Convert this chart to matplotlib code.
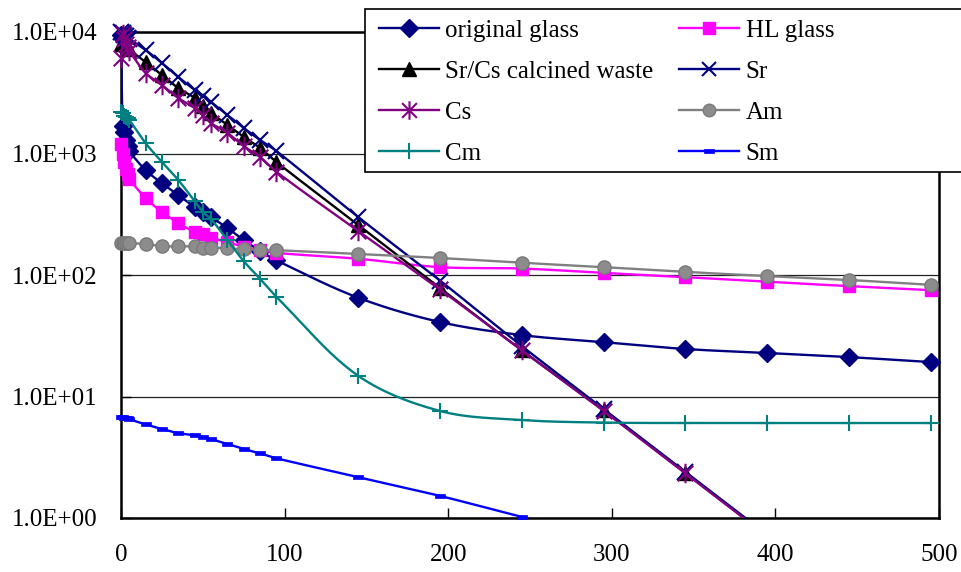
import numpy as np
import matplotlib
matplotlib.use("Agg")
import matplotlib.pyplot as plt
from matplotlib.path import Path
from matplotlib.patches import Rectangle
from matplotlib.lines import Line2D
from matplotlib.ticker import NullLocator, FixedLocator, FixedFormatter

plt.rcParams['font.family'] = ['Liberation Serif', 'DejaVu Serif']

# ---------------- data ----------------
years = [0, 1, 2, 3, 4, 5, 15, 25, 35, 45, 50, 55, 65, 75, 85, 95,
         145, 195, 245, 295, 345, 395, 445, 495]

original_glass = [9500, 1700, 1500, 1300, 1150, 1050, 730, 570, 455, 363, 330, 300,
                  244, 194, 158, 132, 65, 41, 32, 28, 24.6, 22.8, 21.1, 19.2]
hl_glass = [1200, 1000, 850, 750, 680, 620, 430, 330, 268, 226, 217, 202,
            187, 170, 161, 152, 136, 116, 113, 104, 96, 88, 81, 75]
srcs_waste = [8000, 8500, 8200, 7800, 7500, 7200, 5665, 4430, 3460, 2865, 2460, 2160,
              1720, 1370, 1110, 850, 258, 78, 24, 7.7, 2.35, 0.72, 0.22, 0.068]
sr = [10000, 9800, 9500, 9300, 9000, 8800, 7110, 5560, 4265, 3335, 3000, 2655,
      2075, 1623, 1291, 1048, 300, 90, 26, 7.9, 2.4, 0.73, 0.22, 0.068]
cs = [6100, 9600, 8700, 8000, 7500, 7000, 4600, 3660, 2865, 2368, 2075, 1780,
      1480, 1150, 935, 706, 230, 76, 24, 7.6, 2.33, 0.71, 0.215, 0.066]
am = [185, 185, 185, 185, 184, 183, 180, 173, 172, 172, 168, 168,
      166, 163, 161, 160, 149, 138, 126, 116, 106, 98, 91, 83]
cm = [2200, 2150, 2050, 2000, 1950, 1900, 1218, 851, 605, 406, 330, 289,
      194, 130, 93, 66, 14.8, 7.6, 6.4, 6.1, 6.05, 6.05, 6.05, 6.05]
sm = [6.8, 6.8, 6.7, 6.7, 6.6, 6.5, 5.9, 5.4, 5.0, 4.8, 4.65, 4.46,
      4.06, 3.7, 3.4, 3.1, 2.17, 1.52, 1.02, 0.69, 0.47, 0.32, 0.22, 0.15]

series_names = ["original glass", "HL glass", "Sr/Cs calcined waste", "Sr",
                "Cs", "Am", "Cm", "Sm"]
x_ticks = [0, 100, 200, 300, 400, 500]
y_ticks = [1, 10, 100, 1000, 10000]
y_tick_labels = ["1.0E+00", "1.0E+01", "1.0E+02", "1.0E+03", "1.0E+04"]

# ---------------- markers ----------------
star_marker = Path([(0, -1), (0, 1), (-0.8, -0.8), (0.8, 0.8), (-0.8, 0.8), (0.8, -0.8)],
                   [Path.MOVETO, Path.LINETO, Path.MOVETO, Path.LINETO, Path.MOVETO, Path.LINETO])
dash_marker = Path([(-1, -0.4), (1, -0.4), (1, 0.4), (-1, 0.4), (-1, -0.4)],
                   [Path.MOVETO, Path.LINETO, Path.LINETO, Path.LINETO, Path.CLOSEPOLY])

styles = [
    dict(color="#000080", marker="D", ms=9.5, mfc="#000080", mec="#000080", mew=1),
    dict(color="#FF00FF", marker="s", ms=8.5, mfc="#FF00FF", mec="#FF00FF", mew=1),
    dict(color="#000000", marker="^", ms=10, mfc="#000000", mec="#000000", mew=1),
    dict(color="#000080", marker="x", ms=11, mfc="none", mec="#000080", mew=1.5),
    dict(color="#800080", marker=star_marker, ms=14, mfc="none", mec="#800080", mew=1.5),
    dict(color="#808080", marker="o", ms=9.5, mfc="#8C8C8C", mec="#7A7A7A", mew=1),
    dict(color="#008080", marker="+", ms=12, mfc="none", mec="#008080", mew=1.5),
    dict(color="#0000FF", marker=dash_marker, ms=7, mfc="#0000FF", mec="#0000FF", mew=0.5),
]
all_series = [original_glass, hl_glass, srcs_waste, sr, cs, am, cm, sm]

# ---------------- figure ----------------
W, H = 961, 572
fig = plt.figure(figsize=(W / 100, H / 100), dpi=100)
L, R, T, B = 121, 939, 32, 518
ax = fig.add_axes([L / W, 1 - B / H, (R - L) / W, (B - T) / H])
ax.set_yscale("log")
ax.set_xlim(0, 500)
ax.set_ylim(1, 1e4)

sx = (R - L) / 500.0
sy = (B - T) / 4.0


def smooth(xs, ys, n=24):
    """Excel-like smoothed line computed in screen-like space."""
    xs = np.asarray(xs, float)
    ys = np.asarray(ys, float)
    P = np.column_stack([xs * sx, np.log10(ys) * sy])
    m = len(P)
    out = [P[0]]
    for i in range(m - 1):
        p0 = P[i - 1] if i > 0 else P[i]
        p1 = P[i]
        p2 = P[i + 1]
        p3 = P[i + 2] if i + 2 < m else P[i + 1]
        seg = np.linalg.norm(p2 - p1)
        t1 = p2 - p0
        t2 = p3 - p1
        n1 = np.linalg.norm(t1)
        n2 = np.linalg.norm(t2)
        c1 = p1 + (t1 / n1 * seg / 3 if n1 > 0 else 0)
        c2 = p2 - (t2 / n2 * seg / 3 if n2 > 0 else 0)
        t = np.linspace(0, 1, n)[1:, None]
        pts = ((1 - t) ** 3) * p1 + 3 * ((1 - t) ** 2) * t * c1 + 3 * (1 - t) * t ** 2 * c2 + t ** 3 * p2
        out.extend(pts)
    out = np.array(out)
    return out[:, 0] / sx, 10 ** (out[:, 1] / sy)


handles = []
for k, (name, vals, st) in enumerate(zip(series_names, all_series, styles)):
    z = 3 + k * 0.1
    lx, ly = smooth(years, vals)
    ax.plot(lx, ly, color=st["color"], lw=1.7, zorder=z, solid_capstyle="butt")
    xa = np.asarray(years, float)
    va = np.asarray(vals, float)
    keep = va >= 1
    ax.plot(xa[keep], va[keep], ls="none", marker=st["marker"], ms=st["ms"],
            mfc=st["mfc"], mec=st["mec"], mew=st["mew"], zorder=z + 0.05, clip_on=False)
    handles.append(Line2D([], [], color=st["color"], lw=1.7, marker=st["marker"],
                          ms=st["ms"] * 0.95, mfc=st["mfc"], mec=st["mec"], mew=st["mew"],
                          label=name))

# axes styling
ax.yaxis.set_major_locator(FixedLocator(y_ticks))
ax.yaxis.set_major_formatter(FixedFormatter(y_tick_labels))
ax.yaxis.set_minor_locator(NullLocator())
ax.set_xticks(x_ticks)
ax.set_xticklabels([str(v) for v in x_ticks])
ax.grid(axis="y", which="major", color="#222222", lw=0.9, zorder=1)
ax.set_axisbelow(True)
for s in ax.spines.values():
    s.set_color("black")
    s.set_linewidth(1.8)
    s.set_zorder(2.5)
ax.tick_params(axis="both", which="major", direction="in", length=7, width=1,
               labelsize=18, colors="black")
ax.tick_params(axis="y", pad=17)
ax.tick_params(axis="x", pad=19)

# legend box (opaque, extends past the right edge like the original)
box = Rectangle((365 / W, 1 - 172 / H), (990 - 365) / W, (172 - 9) / H,
                transform=fig.transFigure, facecolor="white", edgecolor="black",
                lw=1.2, zorder=4)
fig.patches.append(box)

order = [0, 2, 4, 6, 1, 3, 5, 7]
leg = fig.legend([handles[i] for i in order], [series_names[i] for i in order],
                 ncol=2, loc="upper left", bbox_to_anchor=(371 / W, 1 - 12 / H),
                 frameon=False, fontsize=18, handlelength=2.4, handletextpad=0.25,
                 columnspacing=1.05, labelspacing=0.74, borderpad=0.3, borderaxespad=0)
leg.set_zorder(5)

fig.savefig("out.png", dpi=100)
